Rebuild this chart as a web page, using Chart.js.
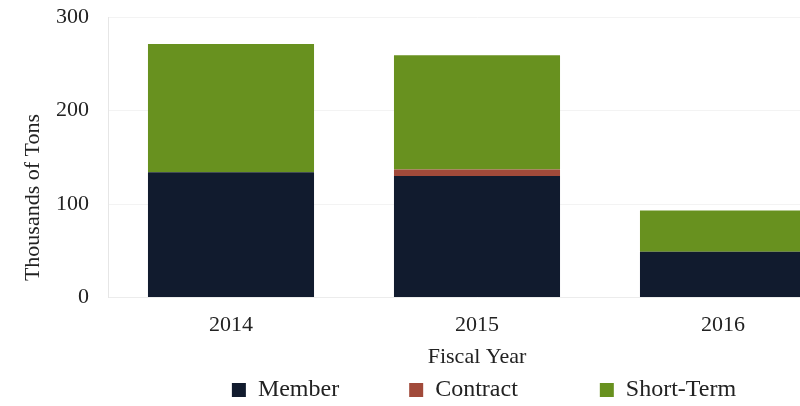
<!DOCTYPE html>
<html>
<head>
<meta charset="utf-8">
<script src="https://cdn.jsdelivr.net/npm/chart.js@4.4.1/dist/chart.umd.min.js"></script>
<style>
    html, body { margin: 0; padding: 0; background: #fff; overflow: hidden; }
    #wrap { width: 968px; height: 406px; }
</style>
</head>
<body>
<div id="wrap"><canvas id="tonsChart"></canvas></div>
<script>
const years = ['2014', '2015', '2016'];
const memberTons = [134, 130, 49];
const contractTons = [0, 7, 0];
const shortTermTons = [137, 122, 44];
const yTicks = [0, 100, 200, 300];

const serif = "'Liberation Serif', 'Times New Roman', serif";

// trailing spaces widen each legend entry so the gaps come out uneven like the original
const legendGaps = [10, 12, 0];

const ctx = document.getElementById('tonsChart').getContext('2d');
const tonsChart = new Chart(ctx, {
    type: 'bar',
    data: {
        labels: years,
        datasets: [
            {
                label: 'Member',
                data: memberTons,
                backgroundColor: '#111b2e',
            },
            {
                label: 'Contract',
                data: contractTons,
                backgroundColor: '#a14a3a',
            },
            {
                label: 'Short-Term',
                data: shortTermTons,
                backgroundColor: '#68911f',
            },
        ],
    },
    options: {
        responsive: true,
        maintainAspectRatio: false,
        animation: false,
        layout: {
            padding: { top: 17, bottom: -6 },
        },
        datasets: {
            bar: {
                categoryPercentage: 0.675,
                barPercentage: 1,
                borderWidth: 0,
            },
        },
        scales: {
            x: {
                stacked: true,
                grid: { display: false, drawTicks: false },
                border: { color: '#ececec' },
                ticks: {
                    color: '#222',
                    padding: 14,
                    font: { family: serif, size: 22 },
                },
                title: {
                    display: true,
                    text: 'Fiscal Year',
                    color: '#222',
                    padding: { top: -6, bottom: 0 },
                    font: { family: serif, size: 22, lineHeight: 1 },
                },
            },
            y: {
                stacked: true,
                min: 0,
                max: 300,
                afterBuildTicks: (scale) => {
                    scale.ticks = yTicks.map((v) => ({ value: v }));
                },
                afterFit: (scale) => {
                    scale.width = 108;
                    scale.paddingTop = 0;
                    scale.paddingBottom = 0;
                },
                grid: {
                    color: '#f3f3f3',
                    drawTicks: false,
                },
                border: { color: '#e6e6e6' },
                ticks: {
                    color: '#222',
                    padding: 19,
                    font: { family: serif, size: 22 },
                },
                title: {
                    display: true,
                    text: '   Thousands of Tons',
                    align: 'start',
                    color: '#222',
                    padding: { top: 22, bottom: 0 },
                    font: { family: serif, size: 22, lineHeight: 1 },
                },
            },
            spacer: {
                position: 'right',
                display: true,
                grid: { display: false, drawTicks: false },
                border: { display: false },
                ticks: { display: false },
                afterFit: (scale) => {
                    scale.width = 122;
                    scale.paddingTop = 0;
                    scale.paddingBottom = 0;
                },
            },
        },
        plugins: {
            legend: {
                position: 'bottom',
                labels: {
                    color: '#222',
                    boxWidth: 14,
                    boxHeight: 14,
                    padding: 10,
                    font: { family: serif, size: 24 },
                    generateLabels: (chart) => {
                        const items = Chart.defaults.plugins.legend.labels.generateLabels(chart);
                        items.forEach((item, i) => {
                            item.text = item.text + ' '.repeat(legendGaps[i]);
                        });
                        return items;
                    },
                },
            },
            tooltip: { enabled: false },
        },
    },
});
</script>
</body>
</html>
